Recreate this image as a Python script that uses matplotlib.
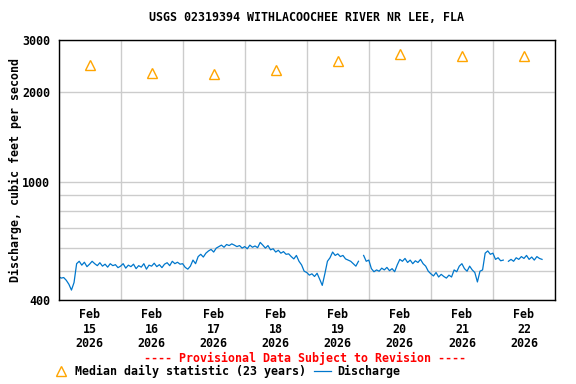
import numpy as np
import matplotlib
matplotlib.use("Agg")
import matplotlib.pyplot as plt
import matplotlib.dates as mdates
from matplotlib.ticker import FixedLocator, NullFormatter

# median daily statistic, plotted at noon of each day
median_days = ["2026-02-15", "2026-02-16", "2026-02-17", "2026-02-18",
               "2026-02-19", "2026-02-20", "2026-02-21", "2026-02-22"]
median_vals = [2470, 2325, 2305, 2380, 2550, 2690, 2650, 2650]

# hourly discharge readings (cfs), starting Feb 15 00:00
q_feb15 = [480, 474, 476, 466, 452, 432, 458, 530, 540, 524, 536, 518,
           528, 540, 530, 522, 534, 520, 528, 516, 530, 522, 526, 514]
q_feb16 = [520, 530, 512, 524, 518, 528, 510, 522, 516, 530, 508, 524,
           520, 532, 518, 526, 514, 528, 534, 522, 540, 530, 536, 528]
q_feb17 = [530, 515, 508, 520, 545, 530, 560, 570, 558, 575, 585, 592,
           580, 598, 605, 612, 602, 615, 610, 618, 612, 605, 610, 598]
q_feb18 = [605, 595, 612, 602, 608, 600, 625, 612, 598, 610, 590, 595,
           580, 588, 575, 582, 570, 572, 560, 550, 565, 540, 525, 500]
q_feb19 = [495, 485, 490, 480, 492, 470, 448, 490, 540, 555, 580, 565,
           572, 560, 565, 550, 545, 540, 530, 520, 540, np.nan, 565, 540]
q_feb20 = [545, 510, 498, 505, 500, 512, 505, 515, 502, 510, 498, 525,
           548, 540, 552, 535, 545, 530, 542, 535, 548, 530, 520, 500]
q_feb21 = [490, 482, 495, 478, 488, 480, 474, 485, 478, 505, 498, 520,
           530, 510, 500, 520, 505, 495, 460, 500, 505, 575, 585, 570]
q_feb22 = [575, 548, 555, 542, 545, np.nan, 540, 548, 540, 555, 548, 560,
           552, 565, 548, 558, 545, 560, 552, 548]

discharge = np.array(q_feb15 + q_feb16 + q_feb17 + q_feb18 +
                     q_feb19 + q_feb20 + q_feb21 + q_feb22, dtype=float)
times = np.datetime64("2026-02-15T00:00") + np.arange(len(discharge)) * np.timedelta64(1, "h")
median_t = np.array(median_days, dtype="datetime64[h]") + np.timedelta64(12, "h")

FS = 8.4
plt.rcParams["font.family"] = "DejaVu Sans Mono"
plt.rcParams["font.weight"] = "bold"
plt.rcParams["font.size"] = FS

fig = plt.figure(figsize=(5.76, 3.84), dpi=100)
ax = fig.add_axes([0.1016, 0.21875, 0.8619, 0.67705])

ax.plot(median_t, median_vals, linestyle="none", marker="^", markersize=7.5,
        markerfacecolor="none", markeredgecolor="#FFA500", markeredgewidth=1.0,
        label="Median daily statistic (23 years)")
ax.plot(times, discharge, color="#0077CC", lw=0.9, label="Discharge")

ax.set_yscale("log")
ax.set_ylim(400, 3000)
ax.yaxis.set_major_locator(FixedLocator([400, 1000, 2000, 3000]))
ax.yaxis.set_major_formatter(matplotlib.ticker.FuncFormatter(lambda v, p: f"{int(v)}"))
ax.yaxis.set_minor_locator(FixedLocator([500, 600, 700, 800, 900]))
ax.yaxis.set_minor_formatter(NullFormatter())

ax.set_xlim(np.datetime64("2026-02-15T00:00"), np.datetime64("2026-02-23T00:00"))
ax.xaxis.set_major_locator(mdates.HourLocator(byhour=[12]))
ax.xaxis.set_major_formatter(mdates.DateFormatter("%b\n%d\n%Y"))
ax.xaxis.set_minor_locator(mdates.HourLocator(byhour=[0]))

ax.grid(True, which="minor", color="#CCCCCC", lw=1.0)
ax.grid(True, which="major", axis="y", color="#CCCCCC", lw=1.0)
ax.set_axisbelow(True)
ax.tick_params(which="both", length=0, labelsize=FS)
ax.tick_params(axis="x", pad=6)
ax.tick_params(axis="y", pad=6)
for lab in ax.get_xticklabels():
    lab.set_linespacing(1.15)

for s in ax.spines.values():
    s.set_linewidth(1.0)
    s.set_color("black")

ax.set_title("USGS 02319394 WITHLACOOCHEE RIVER NR LEE, FLA",
             fontsize=FS, fontweight="bold", pad=14)
ax.set_ylabel("Discharge, cubic feet per second", fontsize=FS,
              fontweight="bold", labelpad=0)

fig.text(0.53, 0.067, "---- Provisional Data Subject to Revision ----",
         color="red", ha="center", va="center", fontsize=FS, fontweight="bold")

fig.legend(loc="lower left", bbox_to_anchor=(0.073, -0.013), ncol=2, frameon=False,
           handlelength=1.45, handletextpad=0.5, columnspacing=0.7, fontsize=FS)

fig.savefig("out.png", dpi=100)
